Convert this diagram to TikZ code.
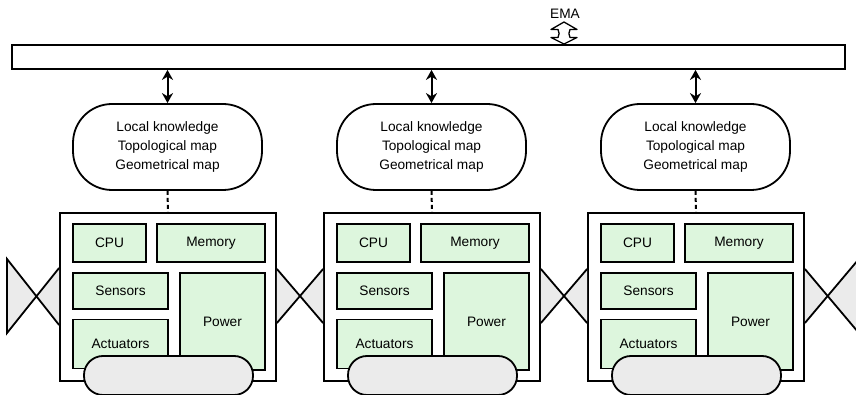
\documentclass[tikz,border=0pt]{standalone}
\usepackage{fontspec}
\setmainfont{Liberation Sans}
\usetikzlibrary{arrows.meta,calc}
\definecolor{partfill}{RGB}{221,246,221}
\definecolor{wheelfill}{RGB}{235,235,235}
\tikzset{
  every node/.style={font=\fontsize{13.7}{19}\selectfont},
  frame/.style={draw=black,line width=1.8pt},
  knowbox/.style={frame,fill=white,rounded corners=39pt,minimum width=189pt,minimum height=86pt,inner sep=0pt,align=center},
  bodybox/.style={frame,fill=white,minimum width=216pt,minimum height=168pt,inner sep=0pt},
  partbox/.style={frame,fill=partfill,inner sep=0pt},
  wheelbox/.style={frame,fill=wheelfill,rounded corners=19pt,minimum width=169pt,minimum height=39pt,inner sep=0pt},
  busarrow/.style={line width=2pt,{Stealth[length=10pt,width=11pt]}-{Stealth[length=10pt,width=11pt]}},
  dotlink/.style={line width=2pt,dash pattern=on 4pt off 3pt}
}
\begin{document}
\begin{tikzpicture}[x=1pt,y=-1pt]
\clip (0,0) rectangle (856,395);
\fill[white] (0,0) rectangle (856,395);

% shared bus
\node[frame,fill=white,minimum width=833pt,minimum height=24pt,inner sep=0pt] (bus) at (428.5,57) {};

% EMA label and hollow double arrow into the bus
\node (ema) at (565,14) {EMA};
\draw[line width=1.3pt,fill=white,line join=round]
  (564,22) -- (577,29.5) -- (570,29.5)
  .. controls (568.5,32) and (568.5,35) .. (570,37.5)
  -- (577,37.5) -- (564,44) -- (551,37.5) -- (558,37.5)
  .. controls (559.5,35) and (559.5,32) .. (558,29.5)
  -- (551,29.5) -- cycle;

% three robots
\foreach \i/\o in {1/0,2/264,3/528}{
  \node[bodybox] (body\i) at (168+\o,297) {};
  \node[partbox,minimum width=73pt,minimum height=38pt] (cpu\i) at (109.5+\o,243) {CPU};
  \node[partbox,minimum width=108pt,minimum height=38pt] (mem\i) at (211+\o,243) {Memory};
  \node[partbox,minimum width=95pt,minimum height=36pt] (sens\i) at (120.5+\o,291) {Sensors};
  \node[partbox,minimum width=95pt,minimum height=49pt] (act\i) at (120.5+\o,344) {Actuators};
  \node[partbox,minimum width=85pt,minimum height=97pt] (pow\i) at (222.5+\o,321.5) {Power};
  \node[wheelbox] (wheel\i) at (168.5+\o,375.5) {};
  \node[knowbox] (know\i) at (167.5+\o,147) {Local knowledge\\Topological map\\Geometrical map};
  \draw[busarrow] (know\i.north |- bus.south) -- (know\i.north);
  \draw[dotlink] (know\i.south) -- (body\i.north);
}

% couplings between neighbouring robots
\foreach \a/\b in {1/2,2/3}{
  \fill[wheelfill] ([yshift=28pt]body\a.east) -- ([yshift=-26pt]body\b.west)
    -- ([yshift=28pt]body\b.west) -- ([yshift=-26pt]body\a.east) -- cycle;
  \draw[line width=1.8pt] ([yshift=28pt]body\a.east) -- ([yshift=-26pt]body\b.west);
  \draw[line width=1.8pt] ([yshift=-26pt]body\a.east) -- ([yshift=28pt]body\b.west);
}

% open couplings at both ends
\coordinate (lt) at (7,259);
\coordinate (lb) at (7,333);
\coordinate (rt) at (858,260);
\coordinate (rb) at (858,332);
\fill[wheelfill] (lt) -- ([yshift=-28pt]body1.west) -- ([yshift=29pt]body1.west) -- (lb) -- cycle;
\draw[line width=1.8pt,line join=miter] ([yshift=29pt]body1.west) -- (lb) -- (lt) -- ([yshift=-28pt]body1.west);
\fill[wheelfill] ([yshift=28pt]body3.east) -- (rb) -- (rt) -- ([yshift=-26pt]body3.east) -- cycle;
\draw[line width=1.8pt] ([yshift=28pt]body3.east) -- (rb);
\draw[line width=1.8pt] ([yshift=-26pt]body3.east) -- (rt);
\end{tikzpicture}
\end{document}
